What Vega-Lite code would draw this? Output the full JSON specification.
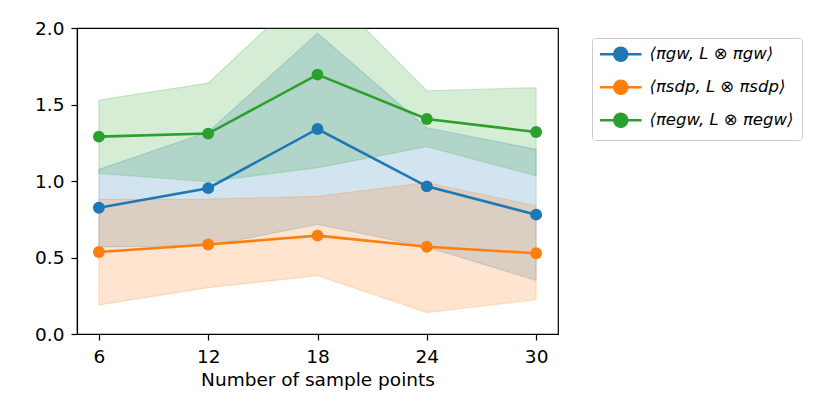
{
  "$schema": "https://vega.github.io/schema/vega-lite/v6.json",
  "width": 481,
  "height": 306,
  "autosize": "none",
  "padding": {"left": 77, "top": 28, "right": 272, "bottom": 81},
  "background": "white",
  "data": {
    "values": [
      {"n": 6, "series": "gw", "mean": 0.825, "lo": 0.569, "hi": 1.076},
      {"n": 12, "series": "gw", "mean": 0.953, "lo": 0.575, "hi": 1.32},
      {"n": 18, "series": "gw", "mean": 1.34, "lo": 0.717, "hi": 1.965},
      {"n": 24, "series": "gw", "mean": 0.965, "lo": 0.568, "hi": 1.348},
      {"n": 30, "series": "gw", "mean": 0.78, "lo": 0.35, "hi": 1.207},
      {"n": 6, "series": "sdp", "mean": 0.536, "lo": 0.19, "hi": 0.88},
      {"n": 12, "series": "sdp", "mean": 0.585, "lo": 0.303, "hi": 0.882},
      {"n": 18, "series": "sdp", "mean": 0.643, "lo": 0.381, "hi": 0.9},
      {"n": 24, "series": "sdp", "mean": 0.57, "lo": 0.14, "hi": 0.99},
      {"n": 30, "series": "sdp", "mean": 0.528, "lo": 0.224, "hi": 0.837},
      {"n": 6, "series": "egw", "mean": 1.29, "lo": 1.05, "hi": 1.53},
      {"n": 12, "series": "egw", "mean": 1.31, "lo": 0.995, "hi": 1.64},
      {"n": 18, "series": "egw", "mean": 1.695, "lo": 1.087, "hi": 2.31},
      {"n": 24, "series": "egw", "mean": 1.405, "lo": 1.225, "hi": 1.59},
      {"n": 30, "series": "egw", "mean": 1.32, "lo": 1.034, "hi": 1.61}
    ]
  },
  "encoding": {
    "x": {
      "field": "n",
      "type": "quantitative",
      "scale": {"domain": [4.8, 31.2], "nice": false, "zero": false},
      "axis": {"values": [6, 12, 18, 24, 30], "title": "Number of sample points", "grid": false}
    },
    "color": {
      "field": "series",
      "type": "nominal",
      "scale": {"domain": ["gw", "sdp", "egw"], "range": ["#1f77b4", "#ff7f0e", "#2ca02c"]},
      "legend": {
        "labelExpr": "datum.value == 'gw' ? '⟨πgw, L ⊗ πgw⟩' : datum.value == 'sdp' ? '⟨πsdp, L ⊗ πsdp⟩' : '⟨πegw, L ⊗ πegw⟩'",
        "encode": {
          "symbols": {
            "update": {
              "stroke": {"scale": "color", "field": "value"},
              "strokeWidth": {"value": 2.6}
            }
          }
        }
      }
    }
  },
  "layer": [
    {
      "mark": {"type": "area", "fillOpacity": 0.2, "strokeOpacity": 0.2, "strokeWidth": 1.2, "clip": true},
      "encoding": {
        "y": {"field": "lo", "type": "quantitative"},
        "y2": {"field": "hi"},
        "stroke": {"field": "series", "type": "nominal", "scale": {"domain": ["gw", "sdp", "egw"], "range": ["#1f77b4", "#ff7f0e", "#2ca02c"]}, "legend": null}
      }
    },
    {
      "mark": {"type": "line", "strokeWidth": 2.6},
      "encoding": {
        "y": {
          "field": "mean",
          "type": "quantitative",
          "scale": {"domain": [0, 2], "nice": false},
          "axis": {"values": [0, 0.5, 1, 1.5, 2], "format": ".1f", "title": null, "grid": false}
        }
      }
    },
    {
      "mark": {"type": "point", "filled": true, "opacity": 1, "size": 140},
      "encoding": {"y": {"field": "mean", "type": "quantitative"}}
    }
  ],
  "config": {
    "font": "DejaVu Sans",
    "view": {"stroke": "black", "strokeWidth": 1.2},
    "axis": {
      "domainColor": "black",
      "domainWidth": 1.2,
      "tickColor": "black",
      "tickSize": 6,
      "tickWidth": 1.2,
      "labelFontSize": 18.5,
      "labelColor": "black",
      "labelPadding": 7,
      "titleFontSize": 18.5,
      "titleFontWeight": "normal",
      "titleColor": "black",
      "titlePadding": 5
    },
    "legend": {
      "orient": "none",
      "legendX": 515,
      "legendY": 10,
      "title": null,
      "labelFontSize": 16.5,
      "labelFontStyle": "italic",
      "labelColor": "black",
      "symbolType": "M-3.2,0H3.2M1,0A1,1 0 1,1 -1,0A1,1 0 1,1 1,0Z",
      "symbolSize": 169,
      "symbolStrokeWidth": 2.6,
      "symbolOffset": 12.5,
      "labelOffset": 20.5,
      "rowPadding": 9,
      "padding": 8,
      "strokeColor": "#cccccc",
      "cornerRadius": 3
    }
  }
}
